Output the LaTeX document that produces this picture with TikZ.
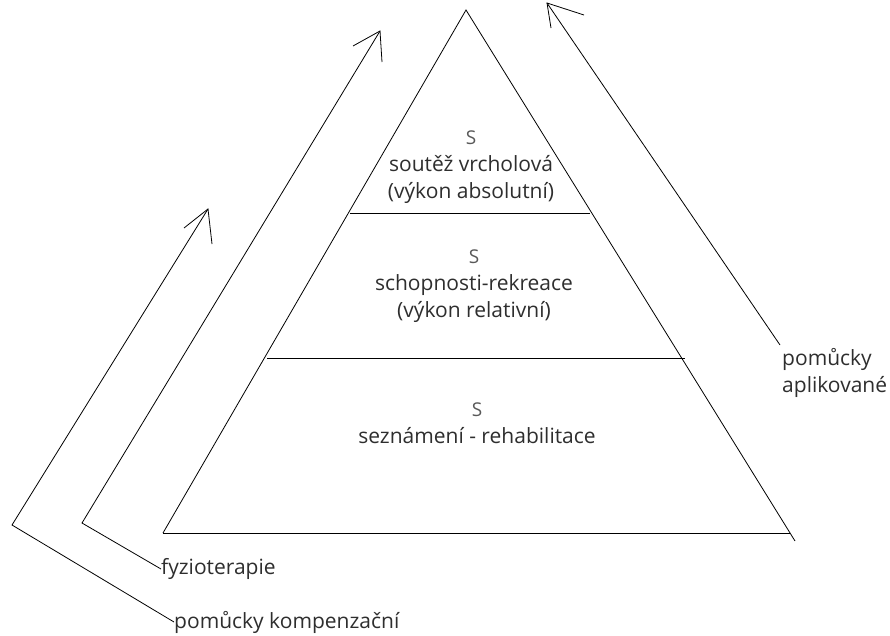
\documentclass[tikz,border=0pt]{standalone}
\usepackage{fontspec}
\setmainfont{Open Sans}
\usepackage{tikz}

\newcommand{\lvS}{{\fontsize{19}{27}\selectfont\color{black!65}S}}

\tikzset{
  lbl/.style={text=black!82, font=\fontsize{21}{27}\selectfont, inner sep=0pt},
  lvl/.style={lbl, align=center},
  ln/.style={line width=0.8pt}
}

\begin{document}
\begin{tikzpicture}[x=1pt,y=-1pt]
\useasboundingbox (0,0) rectangle (890,635);
% pyramid
\coordinate (top) at (466,10);
\coordinate (bl) at (163,533);
\coordinate (br) at (790,533);
\draw[ln] (bl) -- (top) -- (795,541);
\draw[ln] (bl) -- (br);
\draw[ln] (350,213) -- (590,213);
\draw[ln] (267,358) -- (685,358);
% levels
\node[lvl] (lvtop) at (471,167) {\lvS\\soutěž vrcholová\\(výkon absolutní)};
\node[lvl] (lvmid) at (474,286) {\lvS\\schopnosti-rekreace\\(výkon relativní)};
\node[lvl] (lvbot) at (477,423) {\lvS\\seznámení - rehabilitace};
% left arrows
\node[lbl, anchor=west] (fyzio) at (161,569) {fyzioterapie};
\node[lbl, anchor=west] (komp) at (174,622) {pomůcky kompenzační};
\coordinate (fyzioc) at (82,523);
\coordinate (fyziot) at (380,31);
\coordinate (kompc) at (12,525);
\coordinate (kompt) at (208,209);
\draw[ln] (fyzio.west) -- (fyzioc) -- (fyziot);
\draw[ln] (353,46) -- (fyziot) -- (382,62);
\draw[ln] (komp.west) -- (kompc) -- (kompt);
\draw[ln] (184,228) -- (kompt) -- (212,244);
% right arrow
\node[lbl, anchor=north west, align=left] (aplik) at (782,348) {pomůcky\\aplikované};
\coordinate (aplikt) at (547,3);
\draw[ln] (780,345) -- (aplikt);
\draw[ln] (584,15) -- (aplikt) -- (551,28);
\end{tikzpicture}
\end{document}
